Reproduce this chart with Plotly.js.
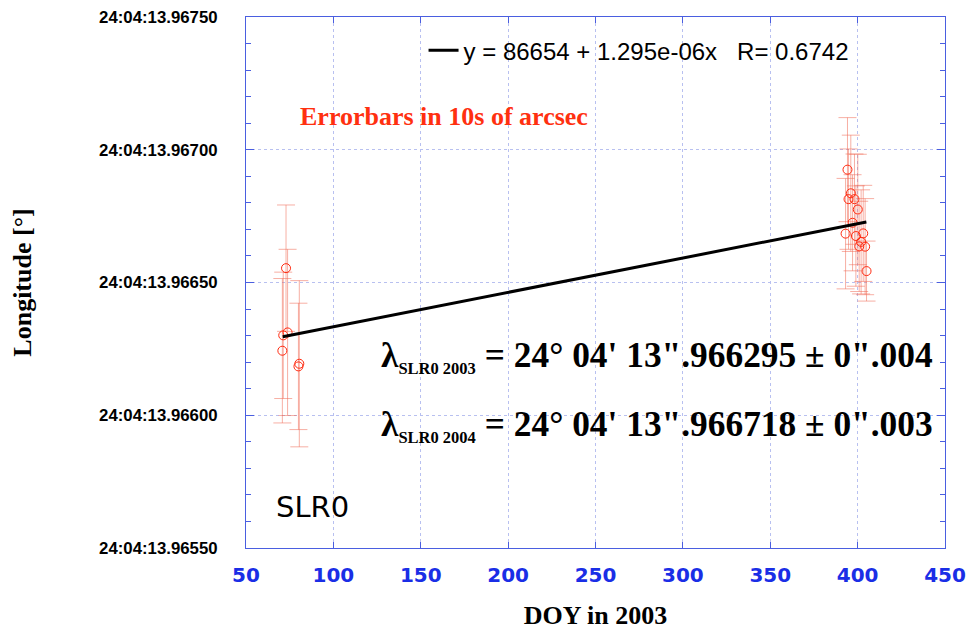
<!DOCTYPE html>
<html>
<head>
<meta charset="utf-8">
<script src="https://cdn.plot.ly/plotly-3.0.1.min.js"></script>
<style>html,body{margin:0;padding:0;background:#fff;}#chart{width:969px;height:630px;}</style>
</head>
<body>
<div id="chart"></div>
<script>
// 2003 observations (DOY, seconds part of longitude 24:04:ss, error)
const doy2003 = [72.9, 71.3, 73.8, 70.8, 80.5, 80.0];
const lon2003 = [13.966554, 13.966301, 13.966312, 13.966243, 13.966194, 13.966184];
const err2003 = [0.000238, 0.000238, 0.000313, 0.000272, 0.000313, 0.000238];

// 2004 observations (DOY counted from 2003)
const doy2004 = [394.2, 396.1, 394.8, 398.2, 400.1, 397.1, 393.1, 399.0, 403.2, 402.0, 400.9, 404.3, 405.1];
const lon2004 = [13.966925, 13.966836, 13.966814, 13.966814, 13.966775, 13.966725, 13.966684, 13.966675, 13.966685, 13.966653, 13.966636, 13.966635, 13.966543];
const err2004 = [0.000196, 0.000219, 0.000189, 0.000170, 0.000208, 0.000181, 0.000208, 0.000189, 0.000181, 0.000196, 0.000170, 0.000181, 0.000113];

// Linear fit endpoints
const fitX = [71, 405];
const fitY = [13.966296, 13.966728];
const fitLabel = "y = 86654 + 1.295e-06x   R= 0.6742";

// Axis ticks
const yTickVals = [13.9655, 13.9660, 13.9665, 13.9670, 13.9675];
const yTickText = ["24:04:13.96550", "24:04:13.96600", "24:04:13.96650", "24:04:13.96700", "24:04:13.96750"];
const xTickVals = [50, 100, 150, 200, 250, 300, 350, 400, 450];

const errStyle = (arr) => ({type: 'data', array: arr, visible: true, color: 'rgba(240,110,90,0.55)', thickness: 1, width: 9});
const markerStyle = {symbol: 'circle-open', size: 9, color: '#ff2a10', line: {width: 1, color: '#ff2a10'}};

const traces = [
  {x: doy2003, y: lon2003, type: 'scatter', mode: 'markers', marker: markerStyle, error_y: errStyle(err2003), showlegend: false, hoverinfo: 'x+y'},
  {x: doy2004, y: lon2004, type: 'scatter', mode: 'markers', marker: markerStyle, error_y: errStyle(err2004), showlegend: false, hoverinfo: 'x+y'},
  {x: fitX, y: fitY, type: 'scatter', mode: 'lines', line: {color: '#000', width: 3}, name: fitLabel, showlegend: true}
];

const frameColor = '#4a5ee0';
const gridColor = '#b8c0f0';

const layout = {
  width: 969, height: 630,
  margin: {l: 246, r: 24, t: 17, b: 82},
  paper_bgcolor: '#fff', plot_bgcolor: '#fff',
  showlegend: true,
  legend: {x: 0.254, y: 0.979, xanchor: 'left', yanchor: 'top', bgcolor: 'rgba(0,0,0,0)',
           font: {family: 'Liberation Sans, Arial, sans-serif', size: 24, color: '#000'}, itemwidth: 30},
  xaxis: {
    range: [50, 450], tickvals: xTickVals, ticks: 'inside', ticklen: 6, tickcolor: frameColor,
    showline: true, linecolor: frameColor, linewidth: 1, mirror: 'allticks',
    showgrid: true, gridcolor: gridColor, griddash: 'dot', gridwidth: 1, zeroline: false,
    tickfont: {family: 'DejaVu Sans, Verdana, sans-serif', size: 20, color: '#1a2ee6', weight: 700},
    ticklabelstandoff: 9,
    title: {text: 'DOY in 2003', standoff: 29, font: {family: 'Liberation Serif, Times New Roman, serif', size: 26, color: '#000', weight: 700}}
  },
  yaxis: {
    range: [13.9655, 13.9675], tickvals: yTickVals, ticktext: yTickText, ticks: 'inside', ticklen: 8, tickcolor: frameColor,
    minor: {dtick: 0.0001, ticks: 'inside', ticklen: 5, tickcolor: frameColor, showgrid: false},
    showline: true, linecolor: frameColor, linewidth: 1, mirror: 'allticks',
    showgrid: true, gridcolor: gridColor, griddash: 'dot', gridwidth: 1, zeroline: false,
    tickfont: {family: 'Liberation Sans, Arial, sans-serif', size: 16.8, color: '#000', weight: 700},
    ticklabelstandoff: 24,
    title: {text: 'Longitude [°]', standoff: 60, font: {family: 'Liberation Serif, Times New Roman, serif', size: 26, color: '#000', weight: 700}}
  },
  annotations: [
    {xref: 'paper', yref: 'paper', x: 0.283, y: 0.813, xanchor: 'center', yanchor: 'middle', showarrow: false,
     text: 'Errorbars in 10s of arcsec', font: {family: 'Liberation Serif, Times New Roman, serif', size: 26, color: '#ff3010', weight: 700}},
    {xref: 'paper', yref: 'paper', x: 0.19, y: 0.36, xanchor: 'left', yanchor: 'middle', showarrow: false,
     text: 'λ<sub><span style="font-size:16.5px">SLR0 2003</span></sub> = 24° 04\' 13".966295 ± 0".004',
     font: {family: 'Liberation Serif, Times New Roman, serif', size: 35.4, color: '#000', weight: 700}},
    {xref: 'paper', yref: 'paper', x: 0.19, y: 0.231, xanchor: 'left', yanchor: 'middle', showarrow: false,
     text: 'λ<sub><span style="font-size:16.5px">SLR0 2004</span></sub> = 24° 04\' 13".966718 ± 0".003',
     font: {family: 'Liberation Serif, Times New Roman, serif', size: 35.4, color: '#000', weight: 700}},
    {xref: 'paper', yref: 'paper', x: 0.04, y: 0.077, xanchor: 'left', yanchor: 'middle', showarrow: false,
     text: 'SLR0', font: {family: 'DejaVu Sans, Verdana, sans-serif', size: 29, color: '#000'}}
  ]
};

Plotly.newPlot('chart', traces, layout, {staticPlot: true, displayModeBar: false});
</script>
</body>
</html>
